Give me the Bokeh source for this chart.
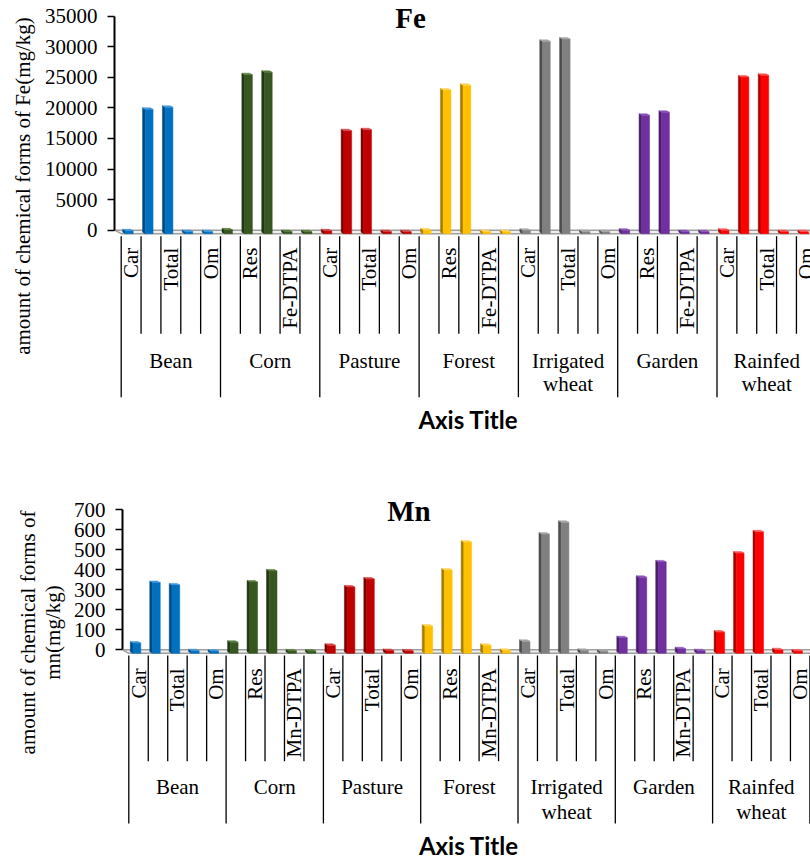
import math
from bokeh.plotting import figure
from bokeh.models import Range1d, LinearAxis, FixedTicker
from bokeh.layouts import column, row
from bokeh.core.properties import value
from bokeh.embed import file_html
from bokeh.resources import INLINE

# ---------------- data ----------------
land_uses = ["Bean", "Corn", "Pasture", "Forest", "Irrigated wheat", "Garden", "Rainfed wheat"]
fe_forms = ["Car", "Res", "Total", "Fe-DTPA", "Om"]
mn_forms = ["Car", "Res", "Total", "Mn-DTPA", "Om"]

fe_car = [150, 300, 150, 300, 250, 250, 250]
fe_res = [20020, 25680, 16520, 23180, 31140, 19040, 25300]
fe_total = [20350, 26070, 16680, 23950, 31520, 19530, 25580]
fe_dtpa = [30, 20, 25, 30, 20, 25, 20]
fe_om = [10, 8, 10, 15, 8, 12, 10]

mn_car = [41, 45, 30, 126, 50, 68, 96]
mn_res = [343, 346, 321, 406, 585, 369, 490]
mn_total = [331, 401, 361, 545, 644, 446, 596]
mn_dtpa = [3, 2, 4, 30, 5, 13, 8]
mn_om = [1, 1, 2, 5, 1, 3, 2]

fe_ticks = [0, 5000, 10000, 15000, 20000, 25000, 30000, 35000]
mn_ticks = [0, 100, 200, 300, 400, 500, 600, 700]

fe_ylabel = ["amount of chemical forms of Fe(mg/kg)"]
mn_ylabel = ["amount of chemical forms of", "mn(mg/kg)"]

front_colors = ["#0070C0", "#38561F", "#C00000", "#FFC000", "#808080", "#7030A0", "#FF0000"]
side_colors = ["#004A80", "#213612", "#7A0000", "#A67C00", "#4D4D4D", "#481F68", "#A80000"]
top_colors = ["#3A96DA", "#567A3A", "#D64040", "#FFD24D", "#A6A6A6", "#8A52B8", "#FF5050"]

SERIF = "Liberation Serif"
PAGE_W = 810


def make_panel(title, forms, series, ticks, ylabel_lines, g):
    Y0, k, X0, w = g["Y0"], g["k"], g["X0"], g["w"]
    top, H, fl_page, Lw = g["top"], g["H"], g["frame_left"], g["label_w"]

    def px(X):  # page x -> data x
        return (X - X0) / w

    def py(Y):  # page y -> data y
        return (Y0 - Y) / k

    def dx(p):
        return p / w

    def dy(p):
        return p / k

    yr = (py(top + H), py(top))

    # ---- narrow figure holding the y-axis title ----
    pl = figure(width=Lw, height=H, x_range=Range1d(0, Lw), y_range=Range1d(*yr),
                output_backend="svg", toolbar_location=None,
                x_axis_location=None, y_axis_location=None,
                min_border_left=0, min_border_right=0, min_border_top=0, min_border_bottom=0)
    pl.outline_line_color = None
    pl.grid.visible = False
    pl.text(x=g["ylab_x"][:len(ylabel_lines)], y=[py(g["ylab_y"])] * len(ylabel_lines),
            text=ylabel_lines, angle=math.pi / 2, text_align="center", text_baseline="middle",
            text_font=value(SERIF), text_font_size="21px", text_color="black")

    # ---- main figure ----
    main_w = PAGE_W - Lw
    frame_w = PAGE_W - fl_page
    x_start = px(fl_page)
    x_end = x_start + frame_w / w
    p = figure(width=main_w, height=H,
               x_range=Range1d(x_start, x_end), y_range=Range1d(*yr),
               output_backend="svg", toolbar_location=None,
               x_axis_location=None, y_axis_location=None,
               min_border_left=int(round(fl_page - Lw)), min_border_right=0,
               min_border_top=0, min_border_bottom=0)
    p.outline_line_color = None
    p.grid.visible = False
    p.background_fill_color = "white"
    p.border_fill_color = "white"

    n_groups = len(land_uses)
    n_forms = len(forms)
    n_cat = n_groups * n_forms

    # floor (3-D base)
    fd = dy(3.5)
    p.patch(x=[x_start, x_end + 1, x_end + 1, 0], y=[0, 0, -fd, -fd],
            fill_color="#EFEFEF", line_color="#A0A0A0", line_width=1.5)

    # bars
    fq_l, fq_r, fq_b, fq_t, fq_c = [], [], [], [], []
    sx, sy, sc, tx, ty, tc = [], [], [], [], [], []
    depx, depy = dx(2.7), dy(1.5)
    for gi in range(n_groups):
        for fi in range(n_forms):
            i = gi * n_forms + fi
            v = series[fi][gi]
            left = i + dx(4.2)
            right = i + dx(12.0)
            ftop = v - depy
            fq_l.append(left); fq_r.append(right)
            fq_b.append(-fd); fq_t.append(ftop); fq_c.append(front_colors[gi])
            sx.append([left, left, left - depx, left - depx])
            sy.append([-fd, ftop, v, -fd + depy])
            sc.append(side_colors[gi])
            tx.append([left, right, right - depx, left - depx])
            ty.append([ftop, ftop, v, v])
            tc.append(top_colors[gi])
    p.patches(xs=sx, ys=sy, fill_color=sc, line_color=sc, line_width=0.5)
    p.quad(left=fq_l, right=fq_r, bottom=fq_b, top=fq_t, fill_color=fq_c,
           line_color=fq_c, line_width=0.5)
    p.patches(xs=tx, ys=ty, fill_color=tc, line_color=tc, line_width=0.5)

    # category separators
    seg_x, seg_y0, seg_y1 = [], [], []
    for i in range(n_cat + 1):
        seg_x.append(i)
        seg_y0.append(-dy(g["sep_start"]))
        seg_y1.append(-dy(g["grp_len"] if i % n_forms == 0 else g["sub_len"]))
    p.segment(x0=seg_x, y0=seg_y0, x1=seg_x, y1=seg_y1, line_color="black", line_width=1.3)

    # category labels (every other one)
    lx, lt = [], []
    for i in range(0, n_cat, 2):
        lx.append(i + 0.5)
        lt.append(forms[i % n_forms])
    p.text(x=lx, y=[-dy(g["lab_anchor"])] * len(lx), text=lt, angle=math.pi / 2,
           text_align="right", text_baseline="middle", text_font=value(SERIF),
           text_font_size="21px", text_color="black")

    # group labels
    gx, gy, gt = [], [], []
    for gi, name in enumerate(land_uses):
        parts = name.split(" ")
        for li, part in enumerate(parts):
            gx.append(gi * n_forms + n_forms / 2)
            gy.append(-dy(g["grp_y1"] if li == 0 else g["grp_y2"]))
            gt.append(part)
    p.text(x=gx, y=gy, text=gt, text_align="center", text_baseline="middle",
           text_font=value(SERIF), text_font_size="21px", text_color="black")

    # title
    p.text(x=[px(g["title_x"])], y=[py(g["title_y"])], text=[title],
           text_align="center", text_baseline="middle", text_font=value(SERIF),
           text_font_size="29px", text_font_style="bold", text_color="black")

    # x axis title
    p.text(x=[px(g["axt_x"])], y=[py(g["axt_y"])], text=["Axis Title"],
           text_align="center", text_baseline="middle", text_font=value("Lato"),
           text_font_size="24px", text_font_style="bold", text_color="black")

    # y axis
    yax = LinearAxis(bounds=(0, ticks[-1]), ticker=FixedTicker(ticks=ticks, minor_ticks=[]),
                     axis_line_width=2, axis_line_color="black",
                     major_tick_out=7, major_tick_in=0, minor_tick_out=0, minor_tick_in=0,
                     major_tick_line_width=1.5, major_tick_line_color="black",
                     major_label_text_font=SERIF, major_label_text_font_size="21px",
                     major_label_standoff=10, major_label_text_color="black")
    p.add_layout(yax, "left")
    return row(pl, p, spacing=0)


fe_geom = dict(Y0=229.7, k=214.0 / 35000, X0=120.7, w=19.86, top=0, H=440, frame_left=114,
               label_w=40, ylab_x=[22], ylab_y=185.5,
               sep_start=6, sub_len=103.5, grp_len=167, lab_anchor=17.5,
               grp_y1=130.3, grp_y2=153.6, title_x=410, title_y=17,
               axt_x=467.8, axt_y=419.2)
mn_geom = dict(Y0=649.3, k=140.3 / 700, X0=128.3, w=19.46, top=440, H=421, frame_left=122,
               label_w=66, ylab_x=[27, 52], ylab_y=632,
               sep_start=5.7, sub_len=111.4, grp_len=173.7, lab_anchor=18.5,
               grp_y1=137, grp_y2=162.4, title_x=408.5, title_y=510,
               axt_x=468.3, axt_y=844.7)

r1 = make_panel("Fe", fe_forms, [fe_car, fe_res, fe_total, fe_dtpa, fe_om], fe_ticks,
                fe_ylabel, fe_geom)
r2 = make_panel("Mn", mn_forms, [mn_car, mn_res, mn_total, mn_dtpa, mn_om], mn_ticks,
                mn_ylabel, mn_geom)

layout = column(r1, r2, spacing=0)
open("out.html", "w").write(file_html(layout, INLINE))
